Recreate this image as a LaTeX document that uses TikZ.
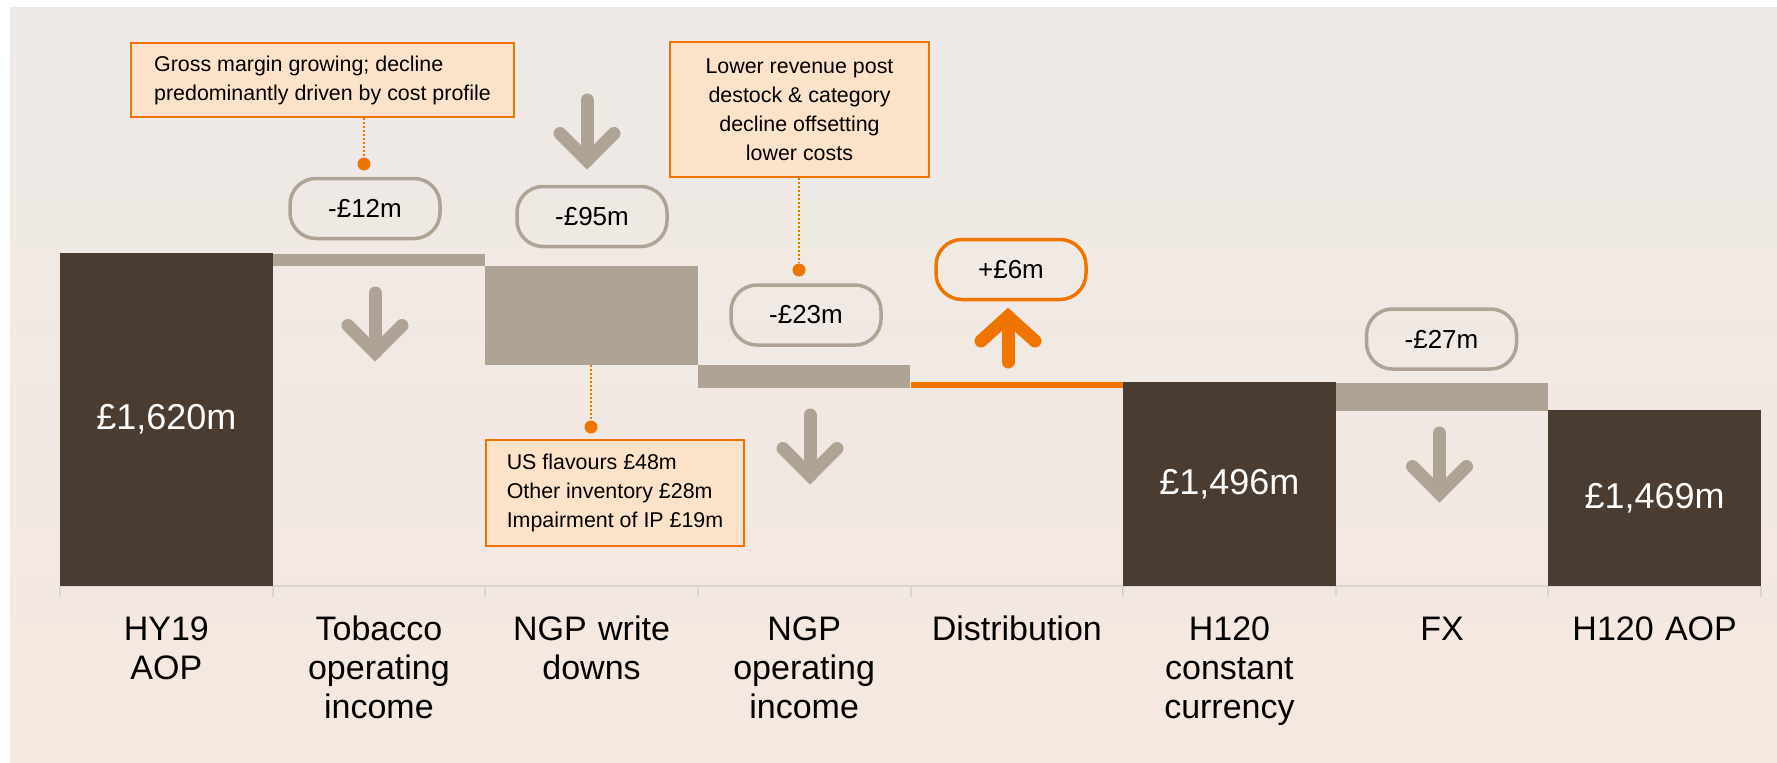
\documentclass[tikz,border=0pt]{standalone}
\usepackage{fontspec}
\setmainfont{Liberation Sans}
\usetikzlibrary{positioning}

\definecolor{bark}{HTML}{4A3C31}
\definecolor{taupe}{HTML}{AFA395}
\definecolor{amber}{HTML}{F07500}
\definecolor{peach}{HTML}{FDE2CA}
\definecolor{bgtop}{HTML}{EDE9E6}
\definecolor{bgbot}{HTML}{F5E8E0}
\definecolor{axisgrey}{HTML}{D9D5D3}

\tikzset{
  total/.style={fill=bark, text=white, anchor=north west, inner sep=0pt, outer sep=0pt,
    minimum width=106.3pt, font=\fontsize{18}{21}\selectfont},
  delta/.style={fill=taupe, anchor=north west, inner sep=0pt, outer sep=0pt, minimum width=106.3pt},
  pill/.style={draw=taupe, line width=1.75pt, rounded corners=13pt, minimum width=75pt,
    minimum height=30pt, inner sep=0pt, font=\fontsize{13}{15}\selectfont},
  callout/.style={draw=amber, fill=peach, line width=1.4pt, inner xsep=9.5pt, inner ysep=0pt,
    font=\fontsize{10.7}{14.5}\selectfont},
  dot/.style={circle, fill=amber, inner sep=0pt, minimum size=6.5pt},
  lead/.style={amber, line width=1pt, dash pattern=on 1pt off 1pt},
  fat/.style={line width=6.5pt, line cap=round, line join=miter},
  cat/.style={anchor=base, text width=100pt, align=center, font=\fontsize{17}{19.5}\selectfont},
}

\begin{document}
\begin{tikzpicture}[x=0.5pt, y=-0.5pt]
        \useasboundingbox (0,0) rectangle (1777,762);
        \fill[white] (0,0) rectangle (1777,762);
        \shade[top color=bgtop, bottom color=bgbot] (10,7) rectangle (1777,762);

        % axis
        \draw[axisgrey, line width=1pt] (60,586) -- (1761,586);
        \foreach \k in {0,...,8}
            \draw[axisgrey, line width=1pt] (60+\k*212.625,586) -- ++(0,11);

        % bars
        \node[total, minimum height=166.5pt] (hy19) at (60,253) {£1,620m};
        \node[delta, minimum height=6.25pt] (tob) at (272.625,253.5) {};
        \node[delta, minimum height=49.5pt] (wd) at (485.25,266) {};
        \node[delta, minimum height=11.65pt] (ngp) at (697.875,365) {};
        \node[delta, fill=amber, minimum height=3pt] (dist) at (910.5,382.3) {};
        \node[total, minimum height=101.85pt] (cc) at (1123.125,382.3) {£1,496m};
        \node[delta, minimum height=13.85pt] (fx) at (1335.75,383) {};
        \node[total, minimum height=88pt] (aop) at (1548.375,410) {£1,469m};

        % categories
        \foreach \t [count=\i from 0] in {HY19\\AOP, Tobacco\\operating\\income, NGP write\\downs,
            NGP\\operating\\income, Distribution, H120\\constant\\currency, FX, H120 AOP}
            \node[cat] (cat\i) at (166.3+\i*212.625,640) {\t};

        % movements
        \node[pill] (p12) at (365,208.5) {-£12m};
        \node[pill] (p95) at (592,216.5) {-£95m};
        \node[pill] (p23) at (806,315) {-£23m};
        \node[pill, draw=amber] (p6) at (1011,269.5) {+£6m};
        \node[pill] (p27) at (1441.5,339) {-£27m};

        \foreach \x/\t/\b in {375/293/352.5, 587/100/160.5, 810/415/475.5, 1439.5/433/493.5} {
            \draw[fat, taupe] (\x,\t) -- (\x,\b);
            \draw[fat, taupe] (\x-27,\b-27) -- (\x,\b) -- (\x+27,\b-27);
        }
        \draw[fat, amber] (1008,362) -- (1008,316.5);
        \draw[fat, amber] (981,341) -- (1008,316.5) -- (1035,341);

        % callouts
        \node[callout, minimum width=191.5pt, minimum height=37pt, align=left]
            (gm) at (322.5,80) {Gross margin growing; decline\\predominantly driven by cost profile};
        \node[callout, minimum width=129.5pt, minimum height=67.5pt, align=center]
            (rv) at (799.5,109.5) {Lower revenue post\\destock \& category\\decline offsetting\\lower costs};
        \node[callout, minimum width=129pt, minimum height=53pt, align=left]
            (us) at (615,493) {US flavours £48m\\Other inventory £28m\\Impairment of IP £19m};

        \node[dot] (g1) at (364,164) {};
        \node[dot] (r1) at (799,270) {};
        \node[dot] (u1) at (591,427) {};
        \draw[lead] (gm.south -| g1) -- (g1);
        \draw[lead] (rv.south -| r1) -- (r1);
        \draw[lead] (wd.south -| u1) -- (u1);
\end{tikzpicture}
\end{document}
